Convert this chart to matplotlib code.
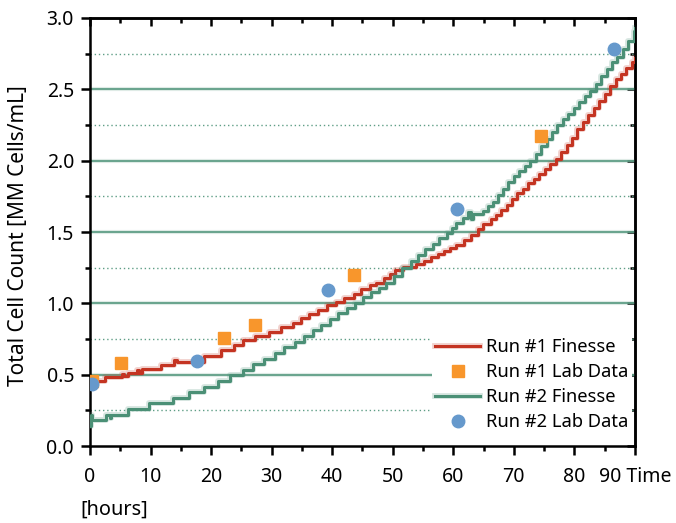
import matplotlib
matplotlib.use("Agg")
import matplotlib.pyplot as plt
import matplotlib.patheffects as pe
from matplotlib.ticker import MultipleLocator, FixedLocator

# ---- data ----
run1_sim_t = [0, 2.4, 5.3, 5.6, 6.3, 7.8, 8.1, 8.6, 11.8, 13.9, 14.3, 18.8, 21.7, 23.8,
              25.3, 27.2, 29.6, 31.5, 33.5, 34.8, 36.2, 37.7, 39.2, 40.6, 42.0, 43.6,
              44.8, 46.2, 47.2, 48.5, 49.5, 50.3, 51.7, 53.9, 55.2, 56.3, 57.5, 58.5,
              59.5, 60.5, 61.8, 62.9, 64.0, 64.9, 66.2, 67.0, 67.9, 68.8, 69.7, 70.6,
              71.5, 72.4, 73.3, 74.2, 75.1, 76.0, 76.9, 77.8, 78.7, 79.6, 80.5, 81.4,
              82.3, 83.2, 84.1, 85.0, 85.9, 86.8, 87.7, 88.6, 89.5, 90.0]
run1_sim_v = [0.455, 0.482, 0.505, 0.488, 0.51, 0.535, 0.515, 0.537, 0.567, 0.60, 0.592,
              0.63, 0.672, 0.705, 0.74, 0.77, 0.80, 0.832, 0.864, 0.895, 0.925, 0.953,
              0.985, 1.011, 1.037, 1.067, 1.098, 1.128, 1.145, 1.175, 1.205, 1.233,
              1.257, 1.273, 1.299, 1.322, 1.345, 1.37, 1.39, 1.412, 1.444, 1.479, 1.518,
              1.556, 1.589, 1.62, 1.654, 1.69, 1.73, 1.77, 1.80, 1.84, 1.87, 1.91, 1.94,
              1.98, 2.01, 2.06, 2.11, 2.16, 2.22, 2.27, 2.32, 2.37, 2.42, 2.47, 2.52,
              2.57, 2.61, 2.65, 2.69, 2.72]

run2_sim_t = [0, 0.15, 0.35, 2.6, 3.3, 3.5, 6.3, 9.8, 13.7, 16.3, 18.8, 21.1, 23.1,
              25.2, 26.9, 28.7, 30.6, 32.1, 33.8, 35.3, 36.9, 38.2, 39.6, 41.0, 42.4,
              43.8, 45.1, 46.4, 47.7, 48.9, 50.2, 51.6, 53.0, 54.1, 55.4, 56.6, 57.7,
              59.0, 59.8, 60.5, 61.6, 62.4, 62.9, 63.2, 64.9, 65.7, 66.5, 67.3, 68.2,
              69.1, 70.0, 70.9, 71.8, 72.7, 73.6, 74.5, 75.4, 76.3, 77.2, 78.1, 79.0,
              79.9, 80.8, 81.7, 82.6, 83.5, 84.4, 85.3, 86.2, 87.1, 88.0, 88.9, 89.8, 90.0]
run2_sim_v = [0.14, 0.215, 0.182, 0.217, 0.195, 0.217, 0.257, 0.299, 0.339, 0.381,
              0.416, 0.458, 0.496, 0.533, 0.574, 0.61, 0.655, 0.694, 0.731, 0.771,
              0.813, 0.848, 0.888, 0.93, 0.965, 1.004, 1.043, 1.081, 1.11, 1.14, 1.19,
              1.245, 1.299, 1.338, 1.378, 1.416, 1.455, 1.495, 1.53, 1.561, 1.595, 1.64,
              1.59, 1.625, 1.65, 1.68, 1.712, 1.76, 1.80, 1.85, 1.89, 1.93, 1.96, 2.0,
              2.05, 2.10, 2.15, 2.20, 2.25, 2.29, 2.33, 2.37, 2.41, 2.45, 2.49, 2.54,
              2.59, 2.64, 2.69, 2.73, 2.78, 2.84, 2.91, 2.93]

run1_lab_t = [0.3, 5.1, 22.2, 27.2, 43.6, 74.4]
run1_lab_v = [0.457, 0.585, 0.757, 0.846, 1.20, 2.175]

run2_lab_t = [0.4, 17.7, 39.3, 60.6, 86.5]
run2_lab_v = [0.438, 0.597, 1.096, 1.664, 2.785]

x_ticks = [0, 10, 20, 30, 40, 50, 60, 70, 80, 90]
x_tick_labels = ["0", "10", "20", "30", "40", "50", "60", "70", "80", "90 Time"]
y_ticks = [0.0, 0.5, 1.0, 1.5, 2.0, 2.5, 3.0]
y_tick_labels = ["0.0", "0.5", "1.0", "1.5", "2.0", "2.5", "3.0"]
grid_major = [0.5, 1.0, 1.5, 2.0, 2.5]
grid_minor = [0.25, 0.75, 1.25, 1.75, 2.25, 2.75]

# ---- style ----
RED = "#c43422"
GREEN = "#4b9076"
ORANGE = "#f8962c"
BLUE = "#6699cc"
GRID = "#5f9e86"

plt.rcParams['font.family'] = ['Noto Sans', 'DejaVu Sans']

fig = plt.figure(figsize=(6.76, 5.23), dpi=100)
ax = fig.add_axes([0.1331, 0.1472, 0.8062, 0.8184])

for g in grid_major:
    ax.axhline(g, color=GRID, lw=1.3, zorder=1,
               path_effects=[pe.Stroke(linewidth=3, foreground=GRID, alpha=0.2), pe.Normal()])
for g in grid_minor:
    ax.axhline(g, color=GRID, lw=1.0, ls=(0, (1, 2)), zorder=1)

halo = lambda c: [pe.Stroke(linewidth=4.2, foreground=c, alpha=0.22), pe.Normal()]
ax.plot(run1_sim_t, run1_sim_v, drawstyle='steps-post', color=RED, lw=2.2,
        label="Run #1 Finesse", zorder=3, path_effects=halo(RED))
ax.plot(run1_lab_t, run1_lab_v, ls='none', marker='s', ms=8.3, color=ORANGE,
        mec=ORANGE, label="Run #1 Lab Data", zorder=4)
ax.plot(run2_sim_t, run2_sim_v, drawstyle='steps-post', color=GREEN, lw=2.2,
        label="Run #2 Finesse", zorder=3, path_effects=halo(GREEN))
ax.plot(run2_lab_t, run2_lab_v, ls='none', marker='o', ms=9, color=BLUE,
        mec=BLUE, label="Run #2 Lab Data", zorder=4)

ax.set_xlim(0, 90)
ax.set_ylim(0, 3.0)

ax.xaxis.set_major_locator(FixedLocator(x_ticks))
ax.set_xticklabels(x_tick_labels)
ax.xaxis.set_minor_locator(MultipleLocator(5))
ax.yaxis.set_major_locator(FixedLocator(y_ticks))
ax.set_yticklabels(y_tick_labels)
ax.yaxis.set_minor_locator(MultipleLocator(0.25))

ax.tick_params(axis='both', which='major', direction='out', width=1.8, length=6.5,
               labelsize=14, colors='black')
ax.tick_params(axis='both', which='minor', direction='out', width=1.8, length=3.6)
ax.tick_params(axis='y', which='major', pad=5)
ax.tick_params(axis='x', which='major', pad=8.5)
for s in ax.spines.values():
    s.set_linewidth(1.8)

sec_x = ax.secondary_xaxis('top')
sec_x.xaxis.set_major_locator(FixedLocator(x_ticks))
sec_x.xaxis.set_minor_locator(MultipleLocator(5))
sec_x.tick_params(axis='x', which='major', direction='in', length=6, width=1.8,
                  labeltop=False)
sec_x.tick_params(axis='x', which='minor', direction='in', length=3.6, width=1.8,
                  labeltop=False)
sec_x.spines['top'].set_linewidth(1.8)
sec_y = ax.secondary_yaxis('right')
sec_y.yaxis.set_major_locator(FixedLocator(y_ticks))
sec_y.yaxis.set_minor_locator(MultipleLocator(0.25))
sec_y.tick_params(axis='y', which='major', direction='in', length=6, width=1.8,
                  labelright=False)
sec_y.tick_params(axis='y', which='minor', direction='in', length=3.6, width=1.8,
                  labelright=False)
sec_y.spines['right'].set_linewidth(1.8)

ax.set_ylabel("Total Cell Count [MM Cells/mL]", fontsize=15, labelpad=5)
ax.yaxis.set_label_coords(-0.112, 0.492)
fig.text(80 / 676, 1 - 510 / 523, "[hours]", fontsize=14.3, ha='left', va='center')

leg = ax.legend(loc='lower right', bbox_to_anchor=(0.995, 0.026), frameon=True,
                fancybox=False, edgecolor='none', facecolor='white', framealpha=1,
                fontsize=13.2, handlelength=2.45, handletextpad=0.33, labelspacing=0.38,
                borderpad=0.2, borderaxespad=0.0)
leg.set_zorder(5)

fig.savefig("out.png", dpi=100)
